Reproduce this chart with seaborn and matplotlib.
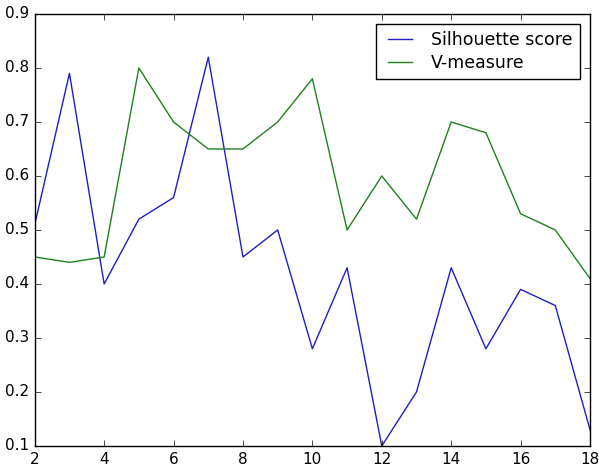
import numpy as np
import pandas as pd
import seaborn as sns
import matplotlib
matplotlib.use("Agg")
import matplotlib.pyplot as plt

n_clusters = list(range(2, 19))
silhouette = [0.51, 0.79, 0.40, 0.52, 0.56, 0.82, 0.45, 0.50, 0.28, 0.43,
              0.10, 0.20, 0.43, 0.28, 0.39, 0.36, 0.13]
v_measure = [0.45, 0.44, 0.45, 0.80, 0.70, 0.65, 0.65, 0.70, 0.78, 0.50,
             0.60, 0.52, 0.70, 0.68, 0.53, 0.50, 0.41]

plt.style.use("classic")
plt.rcParams["font.family"] = ["DejaVu Sans"]

df = pd.DataFrame({
    "k": n_clusters * 2,
    "score": silhouette + v_measure,
    "metric": ["Silhouette score"] * len(n_clusters) + ["V-measure"] * len(n_clusters),
})

fig = plt.figure(figsize=(5.99, 4.66), dpi=100)
ax = fig.add_axes([0.058, 0.043, 0.927, 0.927])
sns.lineplot(data=df, x="k", y="score", hue="metric",
             palette={"Silhouette score": "#1f1fc0", "V-measure": "#1e801e"},
             linewidth=1.0, ax=ax)

ax.set_xlim(2, 18)
ax.set_ylim(0.1, 0.9)
ax.set_xticks(np.arange(2, 19, 2))
ax.set_yticks(np.arange(0.1, 0.91, 0.1))
ax.tick_params(labelsize=11)
ax.set_xlabel("")
ax.set_ylabel("")
ax.legend(loc="upper right", fontsize=12.5, title=None, framealpha=1,
          fancybox=False, edgecolor="black", borderaxespad=0.6,
          labelspacing=0.25, borderpad=0.4)

fig.savefig("out.png", dpi=100)
